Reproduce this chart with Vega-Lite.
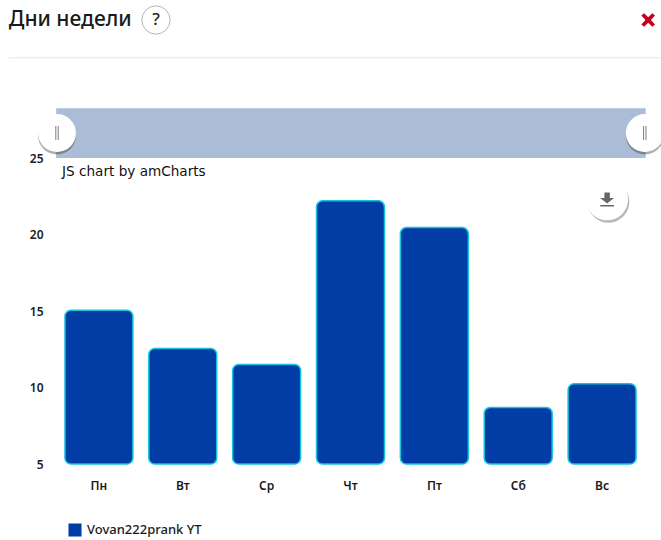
{
  "$schema": "https://vega.github.io/schema/vega-lite/v6.json",
  "width": 587,
  "height": 306,
  "autosize": "none",
  "padding": {"left": 57, "top": 158, "right": 17, "bottom": 76},
  "background": "#ffffff",
  "datasets": {
    "days": [
      {"day": "Пн", "value": 15.05, "series": "Vovan222prank YT"},
      {"day": "Вт", "value": 12.55, "series": "Vovan222prank YT"},
      {"day": "Ср", "value": 11.5, "series": "Vovan222prank YT"},
      {"day": "Чт", "value": 22.2, "series": "Vovan222prank YT"},
      {"day": "Пт", "value": 20.45, "series": "Vovan222prank YT"},
      {"day": "Сб", "value": 8.7, "series": "Vovan222prank YT"},
      {"day": "Вс", "value": 10.25, "series": "Vovan222prank YT"}
    ],
    "navigator": [{"start": -0.01, "end": 7.02, "low": 25, "high": 28.25}],
    "handles": [
      {"pos": 0, "level": 26.63, "shadowLevel": 26.47},
      {"pos": 7.01, "level": 26.63, "shadowLevel": 26.47}
    ],
    "divider": [{"start": -0.575, "end": 7.22, "level": 31.55}],
    "credit": [{"pos": 0.06, "level": 24.08, "label": "JS chart by amCharts"}],
    "heading": [{"pos": -0.575, "level": 34.05, "label": "Дни недели"}],
    "exportButton": [{"pos": 6.56, "level": 22.3, "shadowPos": 6.575, "shadowLevel": 22.14}],
    "helpButton": [{"pos": 1.18, "level": 34.02}],
    "closeButton": [{"pos": 7.05, "level": 34.02}]
  },
  "layer": [
    {
      "data": {"name": "days"},
      "mark": {
        "type": "bar",
        "cornerRadius": 6,
        "stroke": "#12c4de",
        "strokeWidth": 1.5,
        "clip": false
      },
      "encoding": {
        "x": {
          "field": "day",
          "type": "nominal",
          "sort": null,
          "scale": {"paddingInner": 0.19, "paddingOuter": 0.095},
          "axis": {
            "title": null,
            "domain": false,
            "ticks": false,
            "grid": false,
            "labelAngle": 0,
            "labelPadding": 16,
            "labelFont": "Noto Sans",
            "labelFontSize": 12,
            "labelFontWeight": 600,
            "labelColor": "#1a1a1a"
          }
        },
        "y": {
          "field": "value",
          "type": "quantitative",
          "scale": {"domain": [5, 25], "zero": false, "nice": false},
          "axis": {
            "title": null,
            "values": [5, 10, 15, 20, 25],
            "domain": false,
            "ticks": false,
            "grid": false,
            "labelPadding": 14,
            "labelFont": "Noto Sans",
            "labelFontSize": 12,
            "labelFontWeight": 600,
            "labelColor": "#1a1a1a"
          }
        },
        "y2": {"datum": 5},
        "color": {
          "field": "series",
          "type": "nominal",
          "scale": {"range": ["#023da6"]},
          "legend": {
            "title": null,
            "orient": "none",
            "legendX": 11,
            "legendY": 365,
            "symbolType": "square",
            "symbolSize": 170,
            "symbolStrokeWidth": 0,
            "labelFont": "Noto Sans",
            "labelFontSize": 13,
            "labelFontWeight": 500,
            "labelColor": "#1a1a1a",
            "labelOffset": 5
          }
        }
      }
    },
    {
      "data": {"name": "navigator"},
      "mark": {"type": "rect", "color": "#abbcd6", "clip": false},
      "encoding": {
        "x": {"field": "start", "type": "quantitative", "scale": {"domain": [0, 7], "nice": false, "zero": false}, "axis": null},
        "x2": {"field": "end"},
        "y": {"field": "low", "type": "quantitative"},
        "y2": {"field": "high"}
      }
    },
    {
      "data": {"name": "divider"},
      "mark": {"type": "rule", "color": "#e4e6e8", "strokeWidth": 1, "clip": false},
      "encoding": {
        "x": {"field": "start", "type": "quantitative", "scale": {"domain": [0, 7], "nice": false, "zero": false}, "axis": null},
        "x2": {"field": "end"},
        "y": {"field": "level", "type": "quantitative"}
      }
    },
    {
      "data": {"name": "handles"},
      "mark": {"type": "point", "filled": true, "shape": "circle", "size": 1444, "color": "#333333", "opacity": 0.4, "clip": false},
      "encoding": {
        "x": {"field": "pos", "type": "quantitative", "scale": {"domain": [0, 7], "nice": false, "zero": false}, "axis": null},
        "y": {"field": "shadowLevel", "type": "quantitative"}
      }
    },
    {
      "data": {"name": "handles"},
      "mark": {"type": "point", "filled": true, "shape": "circle", "size": 1444, "color": "#ffffff", "opacity": 1, "clip": false},
      "encoding": {
        "x": {"field": "pos", "type": "quantitative", "scale": {"domain": [0, 7], "nice": false, "zero": false}, "axis": null},
        "y": {"field": "level", "type": "quantitative"}
      }
    },
    {
      "data": {"name": "handles"},
      "mark": {
        "type": "point",
        "filled": true,
        "shape": "M-0.11 -0.5H-0.055V0.5H-0.11ZM0.055 -0.5H0.11V0.5H0.055Z",
        "size": 784,
        "color": "#555555",
        "opacity": 1,
        "clip": false
      },
      "encoding": {
        "x": {"field": "pos", "type": "quantitative", "scale": {"domain": [0, 7], "nice": false, "zero": false}, "axis": null},
        "y": {"field": "level", "type": "quantitative"}
      }
    },
    {
      "data": {"name": "heading"},
      "mark": {"type": "text", "align": "left", "font": "Noto Sans", "fontSize": 21, "fontWeight": 500, "color": "#1a1a1a", "clip": false},
      "encoding": {
        "x": {"field": "pos", "type": "quantitative", "scale": {"domain": [0, 7], "nice": false, "zero": false}, "axis": null},
        "y": {"field": "level", "type": "quantitative"},
        "text": {"field": "label"}
      }
    },
    {
      "data": {"name": "credit"},
      "mark": {"type": "text", "align": "left", "font": "DejaVu Sans", "fontSize": 13.6, "color": "#111111", "clip": false},
      "encoding": {
        "x": {"field": "pos", "type": "quantitative", "scale": {"domain": [0, 7], "nice": false, "zero": false}, "axis": null},
        "y": {"field": "level", "type": "quantitative"},
        "text": {"field": "label"}
      }
    },
    {
      "data": {"name": "exportButton"},
      "mark": {"type": "point", "filled": true, "shape": "circle", "size": 1764, "color": "#333333", "opacity": 0.35, "clip": false},
      "encoding": {
        "x": {"field": "shadowPos", "type": "quantitative", "scale": {"domain": [0, 7], "nice": false, "zero": false}, "axis": null},
        "y": {"field": "shadowLevel", "type": "quantitative"}
      }
    },
    {
      "data": {"name": "exportButton"},
      "mark": {"type": "point", "filled": true, "shape": "circle", "size": 1764, "color": "#ffffff", "opacity": 1, "clip": false},
      "encoding": {
        "x": {"field": "pos", "type": "quantitative", "scale": {"domain": [0, 7], "nice": false, "zero": false}, "axis": null},
        "y": {"field": "level", "type": "quantitative"}
      }
    },
    {
      "data": {"name": "exportButton"},
      "mark": {
        "type": "point",
        "filled": true,
        "shape": "M-0.2 -0.5H0.2V-0.1H0.5L0 0.3L-0.5 -0.1H-0.2ZM-0.5 0.42H0.5V0.52H-0.5Z",
        "size": 750,
        "color": "#666666",
        "opacity": 1,
        "clip": false
      },
      "encoding": {
        "x": {"field": "pos", "type": "quantitative", "scale": {"domain": [0, 7], "nice": false, "zero": false}, "axis": null},
        "y": {"field": "level", "type": "quantitative"}
      }
    },
    {
      "data": {"name": "helpButton"},
      "mark": {"type": "point", "filled": true, "shape": "circle", "size": 800, "fill": "#ffffff", "stroke": "#b5b5b5", "strokeWidth": 1, "opacity": 1, "clip": false},
      "encoding": {
        "x": {"field": "pos", "type": "quantitative", "scale": {"domain": [0, 7], "nice": false, "zero": false}, "axis": null},
        "y": {"field": "level", "type": "quantitative"}
      }
    },
    {
      "data": {"name": "helpButton"},
      "mark": {"type": "text", "text": "?", "font": "Noto Sans", "fontSize": 17, "fontWeight": 500, "color": "#222222", "clip": false},
      "encoding": {
        "x": {"field": "pos", "type": "quantitative", "scale": {"domain": [0, 7], "nice": false, "zero": false}, "axis": null},
        "y": {"field": "level", "type": "quantitative"}
      }
    },
    {
      "data": {"name": "closeButton"},
      "mark": {
        "type": "point",
        "filled": true,
        "shape": "M-0.5 -0.32L-0.3 -0.5L0 -0.2L0.3 -0.5L0.5 -0.32L0.2 0L0.5 0.32L0.3 0.5L0 0.2L-0.3 0.5L-0.5 0.32L-0.2 0Z",
        "size": 750,
        "color": "#c4001f",
        "opacity": 1,
        "clip": false
      },
      "encoding": {
        "x": {"field": "pos", "type": "quantitative", "scale": {"domain": [0, 7], "nice": false, "zero": false}, "axis": null},
        "y": {"field": "level", "type": "quantitative"}
      }
    }
  ],
  "resolve": {"scale": {"x": "independent"}, "axis": {"x": "independent"}},
  "config": {"view": {"stroke": null}}
}
